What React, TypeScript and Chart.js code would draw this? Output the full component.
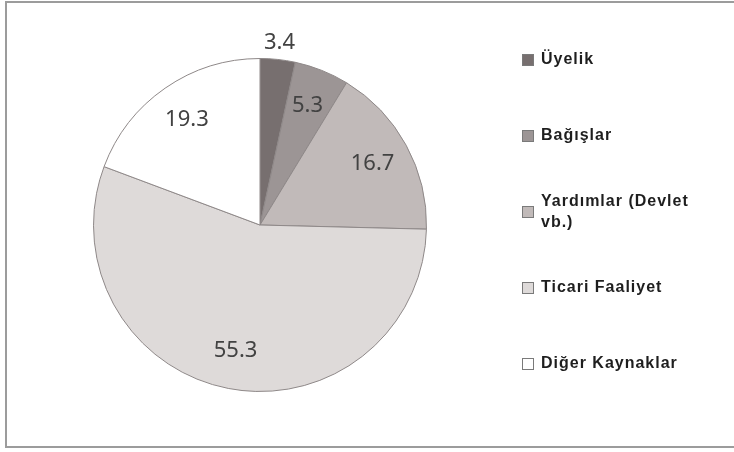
import React, { useEffect, useRef } from "react";
import { Chart, registerables } from "chart.js";

Chart.register(...registerables);

const categories = ["Üyelik", "Bağışlar", "Yardımlar (Devlet vb.)", "Ticari Faaliyet", "Diğer Kaynaklar"];
const shares = [3.4, 5.3, 16.7, 55.3, 19.3];
const sliceColors = ["#776f6f", "#9c9595", "#c1bab9", "#dedad9", "#ffffff"];

const sliceLabelsPlugin = {
  id: "sliceLabels",
  afterDatasetsDraw(chart: any) {
    const ctx = chart.ctx;
    const meta = chart.getDatasetMeta(0);
    const values = chart.data.datasets[0].data as number[];
    const total = values.reduce((a: number, b: number) => a + b, 0);
    ctx.save();
    ctx.font = "22px 'Noto Sans'";
    ctx.fillStyle = "#424242";
    ctx.textAlign = "center";
    ctx.textBaseline = "middle";
    meta.data.forEach((arc: any, i: number) => {
      const { x, y, startAngle, endAngle, outerRadius } = arc.getProps(
        ["x", "y", "startAngle", "endAngle", "outerRadius"],
        true
      );
      const mid = (startAngle + endAngle) / 2;
      const small = values[i] / total < 0.04;
      const r = small ? outerRadius + 17 : outerRadius * 0.77;
      ctx.fillText(String(values[i]), x + Math.cos(mid) * r, y + Math.sin(mid) * r);
    });
    ctx.restore();
  },
};

const sideLegendPlugin = {
  id: "sideLegend",
  afterDraw(chart: any) {
    const ctx = chart.ctx;
    const labels = chart.data.labels as string[];
    const colors = chart.data.datasets[0].backgroundColor as string[];
    const x0 = 522;
    const y0 = 59;
    const step = 76;
    const maxW = 165;
    ctx.save();
    ctx.font = "bold 16px 'Liberation Sans', Arial, sans-serif";
    (ctx as any).letterSpacing = "1px";
    ctx.textAlign = "left";
    ctx.textBaseline = "middle";
    labels.forEach((lab, i) => {
      const cy = y0 + i * step;
      const words = lab.split(" ");
      const lines: string[] = [];
      let cur = "";
      words.forEach((w) => {
        const test = cur ? cur + " " + w : w;
        if (ctx.measureText(test).width > maxW && cur) {
          lines.push(cur);
          cur = w;
        } else cur = test;
      });
      if (cur) lines.push(cur);
      ctx.fillStyle = colors[i];
      ctx.fillRect(x0, cy - 5, 12, 12);
      ctx.strokeStyle = "#7a7a7a";
      ctx.lineWidth = 1;
      ctx.strokeRect(x0 + 0.5, cy - 4.5, 11, 11);
      ctx.fillStyle = "#1e1e1e";
      const lh = 21;
      const startY = cy + 1 - ((lines.length - 1) * lh) / 2;
      lines.forEach((ln, j) => ctx.fillText(ln, x0 + 19, startY + j * lh));
    });
    ctx.restore();
  },
};

export default function App() {
  const ref = useRef<HTMLCanvasElement | null>(null);
  useEffect(() => {
    if (!ref.current) return;
    const chart = new Chart(ref.current, {
      type: "pie",
      data: {
        labels: categories,
        datasets: [
          {
            data: shares,
            backgroundColor: sliceColors,
            borderColor: "#8e8888",
            borderWidth: 1,
          },
        ],
      },
      options: {
        animation: false,
        responsive: false,
        maintainAspectRatio: false,
        layout: { padding: { left: 92, right: 306, top: 58, bottom: 60 } },
        plugins: {
          legend: { display: false },
          tooltip: { enabled: false },
        },
      },
      plugins: [sliceLabelsPlugin, sideLegendPlugin],
    });
    return () => chart.destroy();
  }, []);
  return (
    <div
      style={{
        position: "fixed",
        left: 0,
        top: 0,
        width: 734,
        height: 452,
        background: "#ffffff",
        overflow: "hidden",
      }}
    >
      <div
        style={{
          position: "absolute",
          left: 5,
          top: 1,
          width: 760,
          height: 443,
          border: "2px solid #9c9c9c",
        }}
      />
      <canvas
        ref={ref}
        width={734}
        height={452}
        style={{ position: "absolute", left: 0, top: 0, width: 734, height: 452 }}
      />
    </div>
  );
}
